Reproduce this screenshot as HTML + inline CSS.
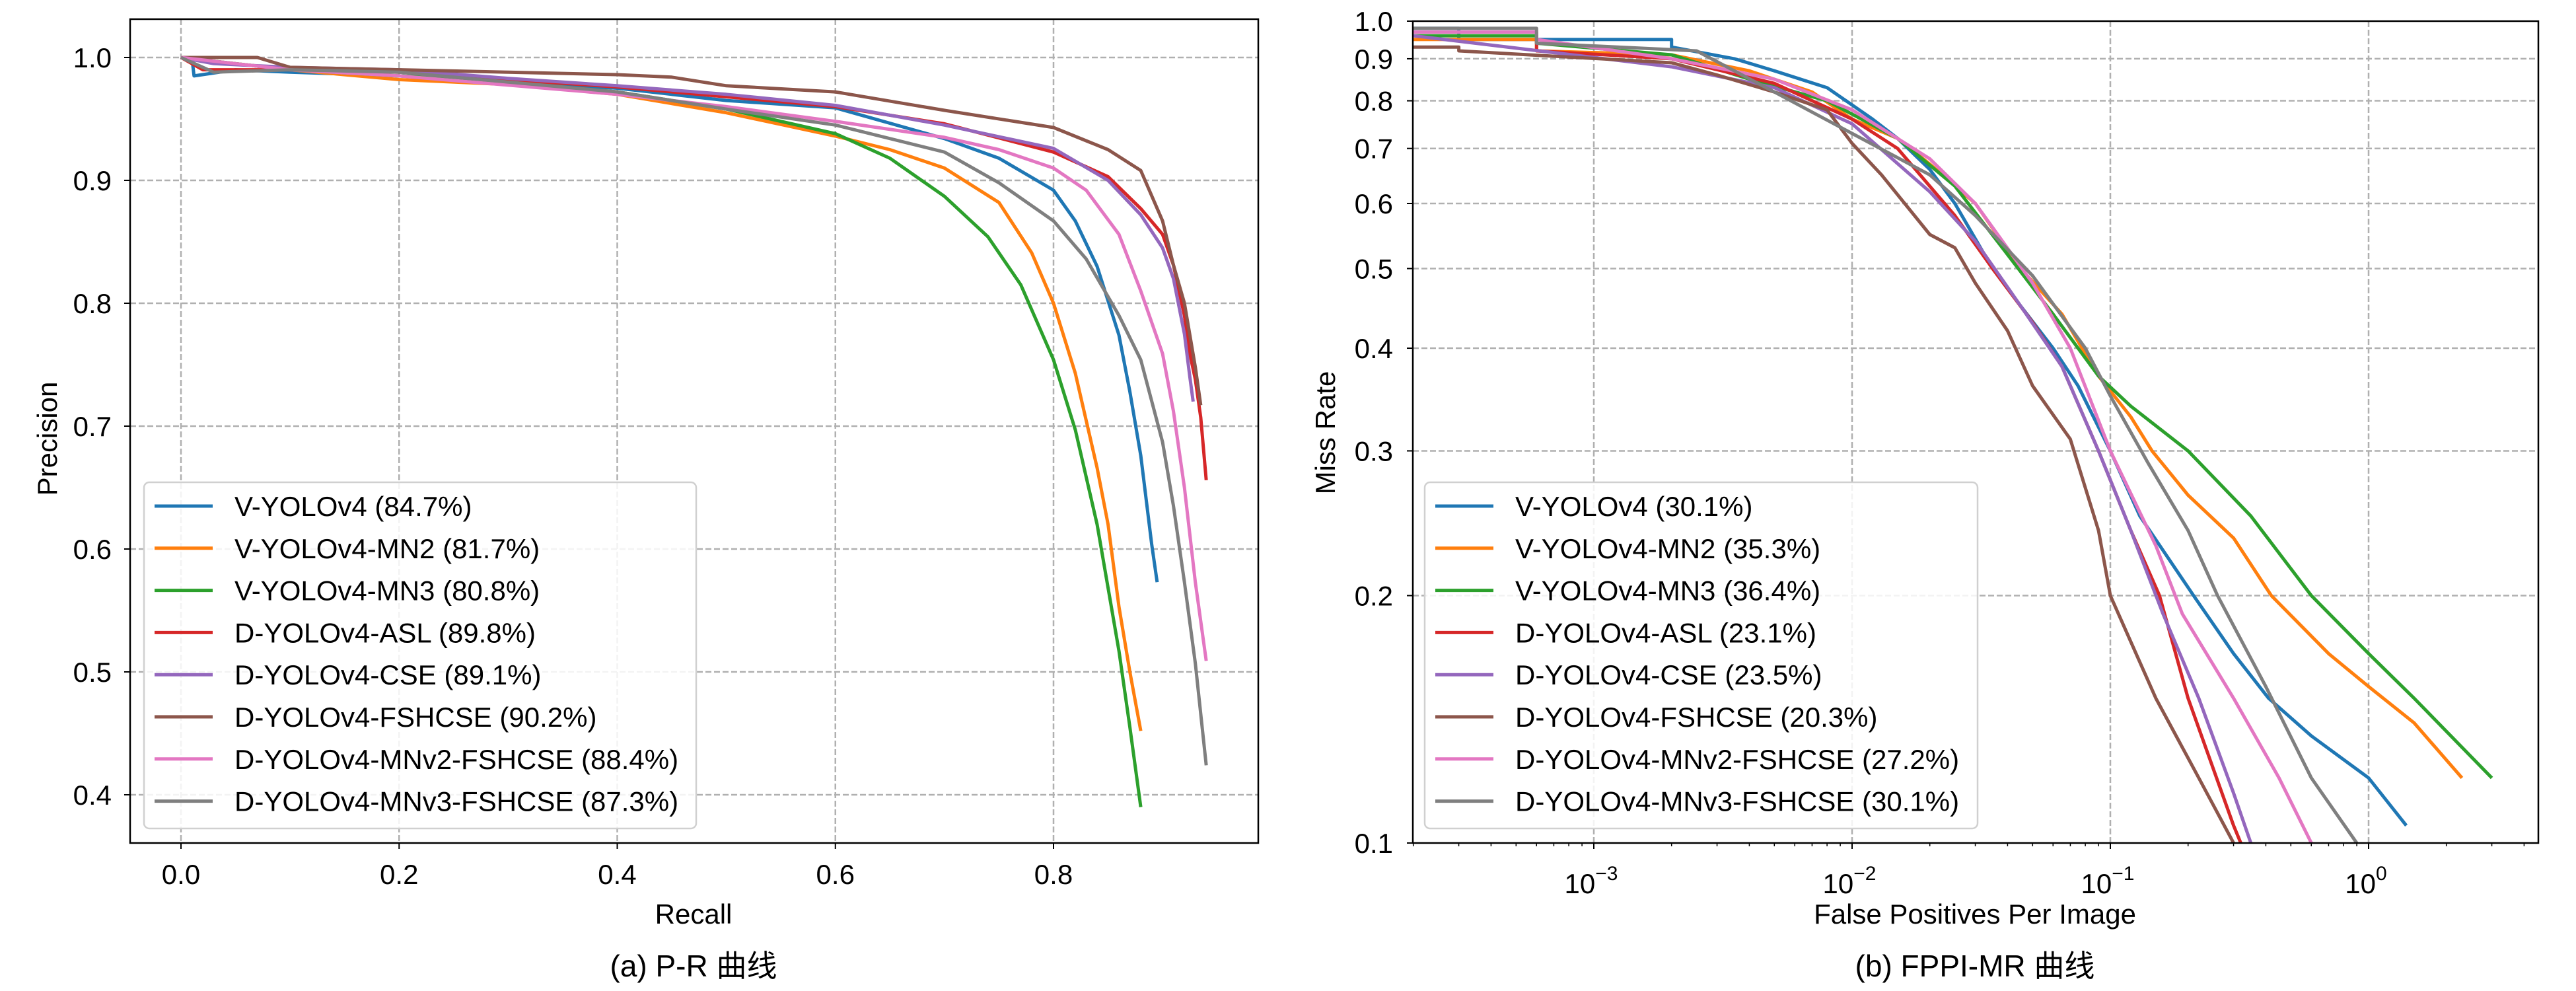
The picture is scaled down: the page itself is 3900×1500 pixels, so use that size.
<!DOCTYPE html>
<html><head><meta charset="utf-8"><style>
html,body{margin:0;padding:0;background:#fff;}
svg{display:block;font-family:"Liberation Sans","Noto Sans CJK SC",sans-serif;}
</style></head><body>
<svg id="fig" width="3900" height="1500" viewBox="0 0 3900 1500" xmlns="http://www.w3.org/2000/svg">
<rect width="3900" height="1500" fill="#fff"/>
<g id="pr"></g>
<g id="fm"></g>
</svg>
<script>
// ---------- data ----------
const seriesNames = ["V-YOLOv4","V-YOLOv4-MN2","V-YOLOv4-MN3","D-YOLOv4-ASL","D-YOLOv4-CSE","D-YOLOv4-FSHCSE","D-YOLOv4-MNv2-FSHCSE","D-YOLOv4-MNv3-FSHCSE"];
const seriesColors = ["#1f77b4","#ff7f0e","#2ca02c","#d62728","#9467bd","#8c564b","#e377c2","#7f7f7f"];
const prAP = ["84.7%","81.7%","80.8%","89.8%","89.1%","90.2%","88.4%","87.3%"];
const mrLAMR = ["30.1%","35.3%","36.4%","23.1%","23.5%","20.3%","27.2%","30.1%"];

const prRecall0 = [0,0.01,0.012,0.05,0.1,0.2,0.3,0.4,0.5,0.6,0.7,0.75,0.8,0.82,0.84,0.86,0.87,0.88,0.89,0.895];
const prPrec0   = [1.0,1.0,0.985,0.99,0.988,0.985,0.98,0.975,0.965,0.959,0.934,0.918,0.892,0.867,0.83,0.774,0.728,0.676,0.604,0.573];
const prRecall1 = [0,0.05,0.1,0.2,0.3,0.4,0.5,0.6,0.65,0.7,0.75,0.78,0.8,0.82,0.84,0.85,0.86,0.87,0.88];
const prPrec1   = [1.0,0.995,0.99,0.982,0.978,0.97,0.955,0.936,0.925,0.91,0.882,0.841,0.8,0.743,0.666,0.62,0.553,0.5,0.452];
const prRecall2 = [0,0.05,0.1,0.2,0.3,0.4,0.5,0.6,0.65,0.7,0.74,0.77,0.8,0.82,0.84,0.86,0.87,0.88];
const prPrec2   = [1.0,0.995,0.99,0.985,0.98,0.972,0.958,0.938,0.918,0.887,0.854,0.815,0.754,0.697,0.62,0.517,0.455,0.39];
const prRecall3 = [0,0.02,0.1,0.2,0.3,0.4,0.5,0.6,0.7,0.8,0.85,0.88,0.9,0.91,0.92,0.925,0.93,0.935,0.94];
const prPrec3   = [1.0,0.99,0.99,0.988,0.982,0.976,0.968,0.96,0.946,0.923,0.903,0.877,0.856,0.831,0.79,0.759,0.738,0.707,0.656];
const prRecall4 = [0,0.03,0.1,0.2,0.3,0.4,0.5,0.6,0.7,0.8,0.85,0.88,0.9,0.91,0.92,0.925,0.928];
const prPrec4   = [1.0,0.995,0.992,0.99,0.983,0.977,0.97,0.961,0.945,0.926,0.9,0.872,0.845,0.82,0.775,0.74,0.72];
const prRecall5 = [0,0.07,0.1,0.3,0.4,0.45,0.5,0.6,0.7,0.8,0.85,0.88,0.9,0.91,0.92,0.93,0.935];
const prPrec5   = [1.0,1.0,0.992,0.988,0.986,0.984,0.977,0.972,0.957,0.943,0.925,0.908,0.867,0.831,0.8,0.748,0.717];
const prRecall6 = [0,0.05,0.1,0.2,0.4,0.5,0.6,0.7,0.75,0.8,0.83,0.86,0.88,0.9,0.91,0.92,0.93,0.94];
const prPrec6   = [1.0,0.995,0.99,0.985,0.97,0.96,0.948,0.935,0.925,0.91,0.892,0.856,0.81,0.759,0.712,0.65,0.573,0.509];
const prRecall7 = [0,0.03,0.1,0.2,0.3,0.4,0.5,0.6,0.7,0.75,0.8,0.83,0.86,0.88,0.9,0.91,0.92,0.93,0.94];
const prPrec7   = [1.0,0.988,0.99,0.988,0.98,0.972,0.958,0.945,0.923,0.898,0.867,0.836,0.79,0.754,0.687,0.635,0.573,0.507,0.424];
const prXTicks = [0.0,0.2,0.4,0.6,0.8];
const prXTickLabels = ["0.0","0.2","0.4","0.6","0.8"];
const prYTicks = [0.4,0.5,0.6,0.7,0.8,0.9,1.0];
const prYTickLabels = ["0.4","0.5","0.6","0.7","0.8","0.9","1.0"];

const fmFppi0 = [2e-4,3e-4,3e-4,2e-3,2e-3,3.5e-3,5e-3,8e-3,0.012,0.015,0.02,0.025,0.035,0.045,0.06,0.075,0.1,0.13,0.21,0.3,0.41,0.6,1.0,1.4];
const fmMr0   = [0.98,0.98,0.95,0.95,0.93,0.9,0.87,0.83,0.76,0.72,0.66,0.6,0.5,0.45,0.4,0.36,0.3,0.25,0.2,0.17,0.15,0.135,0.12,0.105];
const fmFppi1 = [2e-4,6e-4,6e-4,2e-3,4e-3,7e-3,0.01,0.015,0.02,0.03,0.045,0.065,0.09,0.12,0.145,0.2,0.3,0.42,0.7,1.0,1.5,2.3];
const fmMr1   = [0.95,0.95,0.92,0.91,0.87,0.82,0.76,0.72,0.67,0.6,0.5,0.44,0.37,0.33,0.3,0.265,0.235,0.2,0.17,0.155,0.14,0.12];
const fmFppi2 = [2e-4,6e-4,6e-4,2e-3,4e-3,8e-3,0.015,0.025,0.04,0.06,0.09,0.12,0.2,0.35,0.6,1.0,1.5,3.0];
const fmMr2   = [0.96,0.96,0.94,0.91,0.85,0.8,0.72,0.63,0.52,0.44,0.37,0.34,0.3,0.25,0.2,0.17,0.15,0.12];
const fmFppi3 = [2e-4,6e-4,6e-4,2e-3,5e-3,0.01,0.015,0.025,0.035,0.05,0.065,0.09,0.12,0.155,0.2,0.3,0.32];
const fmMr3   = [0.97,0.97,0.92,0.9,0.84,0.76,0.7,0.58,0.5,0.43,0.38,0.3,0.24,0.2,0.15,0.105,0.1];
const fmFppi4 = [2e-4,2e-3,5e-3,0.01,0.02,0.03,0.045,0.065,0.09,0.12,0.16,0.22,0.3,0.35];
const fmMr4   = [0.96,0.88,0.83,0.75,0.62,0.54,0.45,0.38,0.3,0.24,0.19,0.15,0.115,0.1];
const fmFppi5 = [2e-4,3e-4,3e-4,2e-3,3e-3,5e-3,8e-3,0.01,0.013,0.02,0.025,0.03,0.04,0.05,0.07,0.09,0.1,0.15,0.22,0.3];
const fmMr5   = [0.93,0.93,0.92,0.89,0.86,0.82,0.78,0.71,0.65,0.55,0.53,0.48,0.42,0.36,0.31,0.24,0.2,0.15,0.12,0.1];
const fmFppi6 = [2e-4,6e-4,6e-4,2e-3,5e-3,0.01,0.02,0.03,0.05,0.07,0.1,0.15,0.19,0.3,0.45,0.6];
const fmMr6   = [0.97,0.97,0.95,0.9,0.85,0.78,0.68,0.6,0.48,0.4,0.3,0.23,0.19,0.15,0.12,0.1];
const fmFppi7 = [2e-4,6e-4,6e-4,2.5e-3,5e-3,0.01,0.02,0.03,0.05,0.08,0.1,0.14,0.2,0.26,0.4,0.6,0.9];
const fmMr7   = [0.98,0.98,0.94,0.92,0.82,0.73,0.65,0.58,0.49,0.4,0.35,0.29,0.24,0.2,0.155,0.12,0.1];
const fmXTicks = [-3,-2,-1,0];
const fmXTickExps = ["\u22123","\u22122","\u22121","0"];
const fmYTicks = [0.1,0.2,0.3,0.4,0.5,0.6,0.7,0.8,0.9,1.0];
const fmYTickLabels = ["0.1","0.2","0.3","0.4","0.5","0.6","0.7","0.8","0.9","1.0"];

const prRecalls = [prRecall0,prRecall1,prRecall2,prRecall3,prRecall4,prRecall5,prRecall6,prRecall7];
const prPrecs = [prPrec0,prPrec1,prPrec2,prPrec3,prPrec4,prPrec5,prPrec6,prPrec7];
const fmFppis = [fmFppi0,fmFppi1,fmFppi2,fmFppi3,fmFppi4,fmFppi5,fmFppi6,fmFppi7];
const fmMrs = [fmMr0,fmMr1,fmMr2,fmMr3,fmMr4,fmMr5,fmMr6,fmMr7];

// ---------- helpers ----------
const NS = "http://www.w3.org/2000/svg";
function mk(parent, tag, attrs, text){
  const e = document.createElementNS(NS, tag);
  for (const k in attrs) e.setAttribute(k, attrs[k]);
  if (text !== undefined) e.textContent = text;
  parent.appendChild(e);
  return e;
}

// ---------- PR chart ----------
const pr = document.getElementById('pr');
const P = {l:197, r:1905, t:29, b:1276};
const prX = v => 274 + v * (1595 - 274) / 0.8;
const prY = v => 87 + (1.0 - v) * (1203 - 87) / 0.6;

prXTicks.forEach((v,i)=>{
  const x = prX(v);
  const g = mk(pr,'line',{x1:x,x2:x,y1:P.t,y2:P.b,stroke:'#b0b0b0','stroke-width':2.5,'stroke-dasharray':'9,4'});
  
  
  const tk = mk(pr,'line',{x1:x,x2:x,y1:P.b,y2:P.b+9,stroke:'#000','stroke-width':2});
  
  
  const t = mk(pr,'text',{x:x,y:P.b+62,'font-size':42,'text-anchor':'middle'},prXTickLabels[i]);
  
  
});
prYTicks.forEach((v,i)=>{
  const y = prY(v);
  const g = mk(pr,'line',{x1:P.l,x2:P.r,y1:y,y2:y,stroke:'#b0b0b0','stroke-width':2.5,'stroke-dasharray':'9,4'});
  
  
  const tk = mk(pr,'line',{x1:P.l-9,x2:P.l,y1:y,y2:y,stroke:'#000','stroke-width':2});
  
  
  const t = mk(pr,'text',{x:P.l-28,y:y+15,'font-size':42,'text-anchor':'end'},prYTickLabels[i]);
  
  
});
prRecalls.forEach((xs,si)=>{
  const pts = xs.map((x,j)=>prX(x).toFixed(1)+','+prY(prPrecs[si][j]).toFixed(1)).join(' ');
  const pl = mk(pr,'polyline',{points:pts,fill:'none',stroke:seriesColors[si],'stroke-width':5,'stroke-linejoin':'round'});
  
  
});
const prFrame = mk(pr,'rect',{x:P.l,y:P.t,width:P.r-P.l,height:P.b-P.t,fill:'none',stroke:'#000','stroke-width':2.5});


const prXl = mk(pr,'text',{x:1050,y:1398,'font-size':42,'text-anchor':'middle'},'Recall');


const prYl = mk(pr,'text',{x:0,y:0,'font-size':42,'text-anchor':'middle',transform:'translate(86,664) rotate(-90)'},'Precision');


const prTitle = mk(pr,'text',{x:1050,y:1478,'font-size':46,'text-anchor':'middle'},'(a) P-R 曲线');



function legend(parent, x0, x1, labels){
  const lg = mk(parent,'g',{});
  
  
  const box = mk(lg,'rect',{x:x0,y:730,width:x1-x0,height:524,rx:8,fill:'#fff','fill-opacity':0.85,stroke:'#d0d0d0','stroke-width':2.5});
  
  
  labels.forEach((lab,i)=>{
    const y = 766 + i*63.8;
    const ln = mk(lg,'line',{x1:x0+16,x2:x0+104,y1:y,y2:y,stroke:seriesColors[i],'stroke-width':5});
    
    
    const t = mk(lg,'text',{x:x0+137,y:y+15,'font-size':42},lab);
    
    
  });
}
legend(pr, 218, 1054, seriesNames.map((n,i)=>n+' ('+prAP[i]+')'));

// ---------- FPPI-MR chart ----------
const fm = document.getElementById('fm');
const F = {l:2139, r:3843, t:32, b:1276};
const fmX = v => 2413 + (Math.log10(v) + 3) * (3586 - 2413) / 3;
const fmY = v => F.b + Math.log10(v / 0.1) * (F.t - F.b);

fmXTicks.forEach((e,i)=>{
  const x = fmX(Math.pow(10,e));
  const g = mk(fm,'line',{x1:x,x2:x,y1:F.t,y2:F.b,stroke:'#b0b0b0','stroke-width':2.5,'stroke-dasharray':'9,4'});
  
  
  const tk = mk(fm,'line',{x1:x,x2:x,y1:F.b,y2:F.b+9,stroke:'#000','stroke-width':2});
  
  
  const t = mk(fm,'text',{x:x-4,y:F.b+76,'font-size':42,'text-anchor':'middle'});
  
  
  mk(t,'tspan',{},'10');
  mk(t,'tspan',{dy:-20,'font-size':30},fmXTickExps[i]);
});
for (let e=-4; e<=0; e++){
  for (let m=2; m<=9; m++){
    const v = m*Math.pow(10,e);
    if (fmX(v) < F.l || fmX(v) > F.r) continue;
    const mt = mk(fm,'line',{x1:fmX(v),x2:fmX(v),y1:F.b,y2:F.b+5,stroke:'#000','stroke-width':1.5});
    
    
  }
}
fmYTicks.forEach((v,i)=>{
  const y = fmY(v);
  if (i>0 && i<fmYTicks.length-1){
    const g = mk(fm,'line',{x1:F.l,x2:F.r,y1:y,y2:y,stroke:'#b0b0b0','stroke-width':2.5,'stroke-dasharray':'9,4'});
    
    
  }
  const tk = mk(fm,'line',{x1:F.l-9,x2:F.l,y1:y,y2:y,stroke:'#000','stroke-width':2});
  
  
  const t = mk(fm,'text',{x:F.l-30,y:y+15,'font-size':42,'text-anchor':'end'},fmYTickLabels[i]);
  
  
});
const clip = mk(fm,'clipPath',{id:'fmclip'});
mk(clip,'rect',{x:F.l,y:F.t,width:F.r-F.l,height:F.b-F.t});
fmFppis.forEach((xs,si)=>{
  const pts = xs.map((x,j)=>fmX(x).toFixed(1)+','+fmY(fmMrs[si][j]).toFixed(1)).join(' ');
  const pl = mk(fm,'polyline',{points:pts,fill:'none',stroke:seriesColors[si],'stroke-width':5,'stroke-linejoin':'round','clip-path':'url(#fmclip)'});
  
  
});
const fmFrame = mk(fm,'rect',{x:F.l,y:F.t,width:F.r-F.l,height:F.b-F.t,fill:'none',stroke:'#000','stroke-width':2.5});


const fmXl = mk(fm,'text',{x:2990,y:1398,'font-size':42,'text-anchor':'middle'},'False Positives Per Image');


const fmYl = mk(fm,'text',{x:0,y:0,'font-size':42,'text-anchor':'middle',transform:'translate(2021,655) rotate(-90)'},'Miss Rate');


const fmTitle = mk(fm,'text',{x:2990,y:1478,'font-size':46,'text-anchor':'middle'},'(b) FPPI-MR 曲线');


legend(fm, 2157, 2994, seriesNames.map((n,i)=>n+' ('+mrLAMR[i]+')'));
</script>
</body></html>
